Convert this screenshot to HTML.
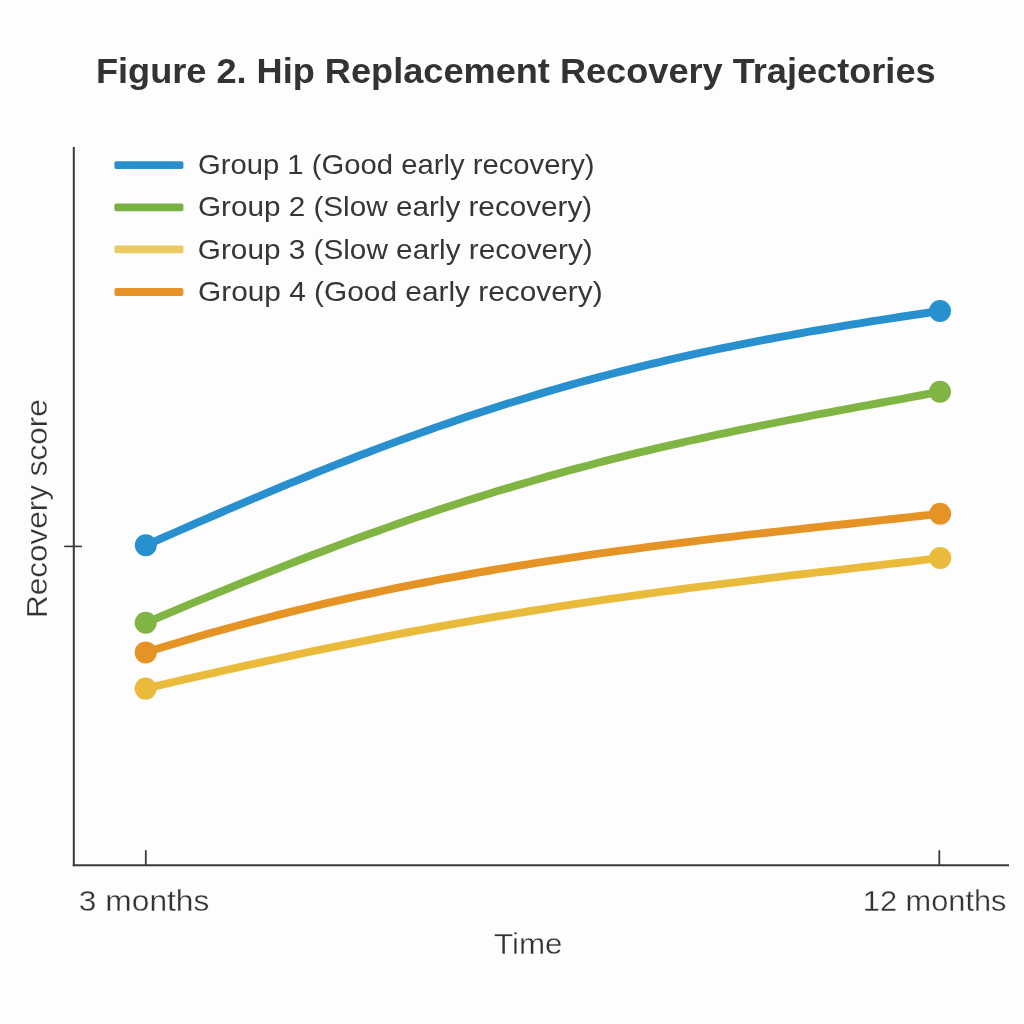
<!DOCTYPE html>
<html><head><meta charset="utf-8"><title>Figure 2. Hip Replacement Recovery Trajectories</title>
<style>
html,body{margin:0;padding:0;background:#fdfdfd;}
svg{display:block;will-change:transform;}
text{font-family:"Liberation Sans",Arial,sans-serif;}
.tt{font-weight:bold;fill:#333;stroke:#fdfdfd;stroke-width:0px;}
.lg{fill:#363636;stroke:#fdfdfd;stroke-width:0px;}
.ax{fill:#333;stroke:#fdfdfd;stroke-width:0.3px;}
</style></head>
<body>
<svg width="1024" height="1024" viewBox="0 0 1024 1024">
<rect width="1024" height="1024" fill="#fdfdfd"/>
<g stroke="#3a3a3a" fill="none" stroke-linecap="butt">
<line x1="73.8" y1="147" x2="73.8" y2="866.2" stroke-width="2"/>
<line x1="72.8" y1="865.2" x2="1009" y2="865.2" stroke-width="2"/>
<line x1="64.2" y1="546.4" x2="82" y2="546.4" stroke-width="1.6"/>
<line x1="145.8" y1="850.2" x2="145.8" y2="865" stroke-width="1.8"/>
<line x1="939.3" y1="850.2" x2="939.3" y2="865" stroke-width="1.8"/>
</g>
<rect x="114.4" y="161.3" width="69" height="7.8" rx="1.8" fill="#2890cf"/>
<rect x="114.4" y="203.4" width="69" height="7.8" rx="1.8" fill="#78b043"/>
<rect x="114.4" y="245.5" width="69" height="7.8" rx="1.8" fill="#ebca62"/>
<rect x="114.4" y="288.1" width="69" height="7.8" rx="1.8" fill="#e8922a"/>
<polyline points="145.6,688.6 155.7,686.2 165.7,683.9 175.8,681.5 185.8,679.2 195.9,676.9 205.9,674.6 216.0,672.3 226.1,670.0 236.1,667.8 246.2,665.5 256.2,663.3 266.3,661.1 276.4,659.0 286.4,656.8 296.5,654.7 306.5,652.5 316.6,650.4 326.6,648.4 336.7,646.3 346.8,644.3 356.8,642.3 366.9,640.3 376.9,638.3 387.0,636.3 397.1,634.4 407.1,632.5 417.2,630.6 427.2,628.8 437.3,627.0 447.3,625.1 457.4,623.4 467.5,621.6 477.5,619.8 487.6,618.1 497.6,616.4 507.7,614.8 517.8,613.1 527.8,611.5 537.9,609.9 547.9,608.3 558.0,606.7 568.0,605.2 578.1,603.7 588.2,602.2 598.2,600.7 608.3,599.2 618.3,597.8 628.4,596.4 638.5,595.0 648.5,593.6 658.6,592.2 668.6,590.8 678.7,589.5 688.7,588.2 698.8,586.9 708.9,585.6 718.9,584.3 729.0,583.1 739.0,581.8 749.1,580.6 759.2,579.3 769.2,578.1 779.3,576.9 789.3,575.7 799.4,574.5 809.4,573.3 819.5,572.1 829.6,571.0 839.6,569.8 849.7,568.6 859.7,567.4 869.8,566.3 879.9,565.1 889.9,563.9 900.0,562.8 910.0,561.6 920.1,560.4 930.1,559.2 940.2,558.0" fill="none" stroke="#eabb3b" stroke-width="7.9" stroke-linecap="round" stroke-linejoin="round"/>
<polyline points="145.7,652.4 155.8,649.3 165.8,646.2 175.9,643.2 185.9,640.2 196.0,637.2 206.0,634.3 216.1,631.5 226.1,628.7 236.2,626.0 246.3,623.3 256.3,620.6 266.4,618.0 276.4,615.4 286.5,612.9 296.5,610.4 306.6,608.0 316.6,605.6 326.7,603.2 336.8,600.9 346.8,598.7 356.9,596.4 366.9,594.3 377.0,592.1 387.0,590.0 397.1,587.9 407.1,585.9 417.2,583.9 427.3,582.0 437.3,580.0 447.4,578.2 457.4,576.3 467.5,574.5 477.5,572.7 487.6,571.0 497.6,569.2 507.7,567.6 517.8,565.9 527.8,564.3 537.9,562.7 547.9,561.1 558.0,559.6 568.0,558.1 578.1,556.6 588.2,555.2 598.2,553.7 608.3,552.3 618.3,550.9 628.4,549.6 638.4,548.3 648.5,546.9 658.5,545.6 668.6,544.4 678.7,543.1 688.7,541.9 698.8,540.6 708.8,539.4 718.9,538.2 728.9,537.1 739.0,535.9 749.0,534.7 759.1,533.6 769.2,532.5 779.2,531.3 789.3,530.2 799.3,529.1 809.4,528.0 819.4,526.9 829.5,525.8 839.5,524.7 849.6,523.7 859.7,522.6 869.7,521.5 879.8,520.4 889.8,519.3 899.9,518.2 909.9,517.1 920.0,516.0 930.0,514.9 940.1,513.8" fill="none" stroke="#e59324" stroke-width="7.9" stroke-linecap="round" stroke-linejoin="round"/>
<polyline points="145.7,622.8 155.8,618.6 165.8,614.3 175.9,610.1 185.9,605.9 196.0,601.7 206.0,597.6 216.1,593.4 226.1,589.3 236.2,585.2 246.2,581.1 256.3,577.1 266.4,573.1 276.4,569.1 286.5,565.1 296.5,561.2 306.6,557.3 316.6,553.5 326.7,549.7 336.7,545.9 346.8,542.1 356.8,538.4 366.9,534.8 377.0,531.2 387.0,527.6 397.1,524.0 407.1,520.6 417.2,517.1 427.2,513.7 437.3,510.3 447.3,507.0 457.4,503.8 467.4,500.5 477.5,497.4 487.6,494.2 497.6,491.1 507.7,488.1 517.7,485.1 527.8,482.2 537.8,479.3 547.9,476.4 557.9,473.6 568.0,470.8 578.0,468.1 588.1,465.5 598.1,462.8 608.2,460.2 618.3,457.7 628.3,455.2 638.4,452.7 648.4,450.3 658.5,447.9 668.5,445.6 678.6,443.3 688.6,441.0 698.7,438.8 708.7,436.6 718.8,434.4 728.9,432.3 738.9,430.2 749.0,428.1 759.0,426.0 769.1,424.0 779.1,422.0 789.2,420.0 799.2,418.1 809.3,416.2 819.3,414.2 829.4,412.3 839.5,410.4 849.5,408.6 859.6,406.7 869.6,404.8 879.7,403.0 889.7,401.1 899.8,399.3 909.8,397.4 919.9,395.5 929.9,393.7 940.0,391.8" fill="none" stroke="#80b543" stroke-width="7.9" stroke-linecap="round" stroke-linejoin="round"/>
<polyline points="145.8,545.3 155.9,540.9 165.9,536.4 176.0,532.0 186.0,527.6 196.1,523.2 206.1,518.8 216.2,514.5 226.2,510.2 236.3,505.9 246.3,501.6 256.4,497.3 266.4,493.1 276.5,488.9 286.5,484.7 296.6,480.6 306.7,476.5 316.7,472.4 326.8,468.4 336.8,464.4 346.9,460.5 356.9,456.5 367.0,452.7 377.0,448.9 387.1,445.1 397.1,441.4 407.2,437.7 417.2,434.1 427.3,430.5 437.3,426.9 447.4,423.4 457.4,420.0 467.5,416.6 477.6,413.3 487.6,410.0 497.7,406.8 507.7,403.6 517.8,400.5 527.8,397.4 537.9,394.4 547.9,391.4 558.0,388.5 568.0,385.6 578.1,382.8 588.1,380.1 598.2,377.4 608.2,374.7 618.3,372.1 628.4,369.6 638.4,367.1 648.5,364.7 658.5,362.3 668.6,359.9 678.6,357.6 688.7,355.4 698.7,353.2 708.8,351.0 718.8,348.9 728.9,346.8 738.9,344.8 749.0,342.8 759.0,340.9 769.1,339.0 779.1,337.1 789.2,335.3 799.3,333.5 809.3,331.7 819.4,330.0 829.4,328.3 839.5,326.6 849.5,324.9 859.6,323.3 869.6,321.7 879.7,320.1 889.7,318.6 899.8,317.0 909.8,315.5 919.9,314.0 929.9,312.5 940.0,311.0" fill="none" stroke="#2890cf" stroke-width="7.9" stroke-linecap="round" stroke-linejoin="round"/>
<circle cx="145.6" cy="688.6" r="11" fill="#eabb3b"/>
<circle cx="940.2" cy="558.0" r="11" fill="#eabb3b"/>
<circle cx="145.7" cy="652.4" r="11" fill="#e59324"/>
<circle cx="940.1" cy="513.8" r="11" fill="#e59324"/>
<circle cx="145.7" cy="622.8" r="11" fill="#80b543"/>
<circle cx="940.0" cy="391.8" r="11" fill="#80b543"/>
<circle cx="145.8" cy="545.3" r="11" fill="#2890cf"/>
<circle cx="940.0" cy="311.0" r="11" fill="#2890cf"/>
<text id="title" x="95.94" y="82.70" class="tt" style="font-size:35.8px;" textLength="839.68" lengthAdjust="spacingAndGlyphs">Figure 2. Hip Replacement Recovery Trajectories</text>
<text id="leg1" x="197.96" y="174.20" class="lg" style="font-size:28.0px;" textLength="396.57" lengthAdjust="spacingAndGlyphs">Group 1 (Good early recovery)</text>
<text id="leg2" x="197.94" y="216.40" class="lg" style="font-size:28.0px;" textLength="394.25" lengthAdjust="spacingAndGlyphs">Group 2 (Slow early recovery)</text>
<text id="leg3" x="197.82" y="258.60" class="lg" style="font-size:28.0px;" textLength="394.93" lengthAdjust="spacingAndGlyphs">Group 3 (Slow early recovery)</text>
<text id="leg4" x="198.00" y="300.90" class="lg" style="font-size:28.0px;" textLength="404.64" lengthAdjust="spacingAndGlyphs">Group 4 (Good early recovery)</text>
<text id="m3" x="78.89" y="910.80" class="ax" style="font-size:29.5px;" textLength="130.50" lengthAdjust="spacingAndGlyphs">3 months</text>
<text id="m12" x="862.82" y="910.60" class="ax" style="font-size:29.5px;" textLength="143.59" lengthAdjust="spacingAndGlyphs">12 months</text>
<text id="time" x="494.01" y="953.70" class="ax" style="font-size:29.5px;" textLength="68.51" lengthAdjust="spacingAndGlyphs">Time</text>
<text id="ylab" transform="translate(46.50,618.09) rotate(-90)" class="ax" style="font-size:29.5px;" textLength="218.96" lengthAdjust="spacingAndGlyphs">Recovery score</text>
</svg>
</body></html>
